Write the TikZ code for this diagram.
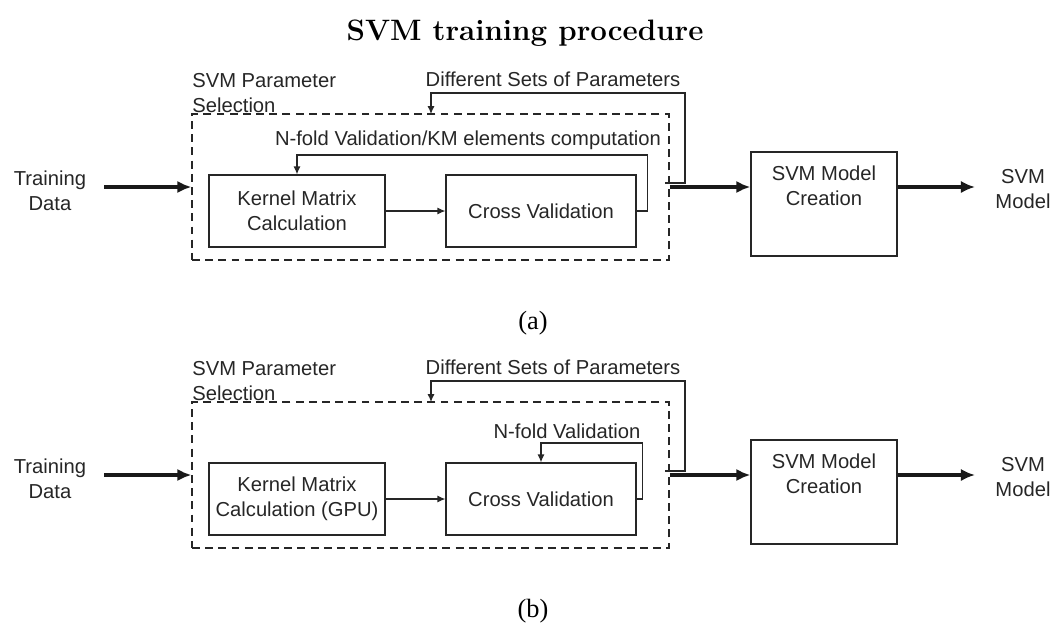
\documentclass[tikz,border=0pt]{standalone}
\usepackage{fontspec}
\usepackage{tikz}
\usetikzlibrary{arrows.meta}
\newfontfamily\arialfont{Liberation Sans}
\newfontfamily\serfont{Liberation Serif}

\begin{document}
\begin{tikzpicture}[x=0.02cm,y=-0.02cm,
		every node/.style={font=\arialfont\fontsize{11.5}{14}\selectfont,text=black!85,align=center},
		block/.style={draw=black!85,line width=0.75pt,inner sep=0pt},
		selbox/.style={draw=black!85,line width=0.75pt,dash pattern=on 4.5pt off 3pt,inner sep=0pt},
		flow/.style={draw=black!90,line width=1.8pt,-{Latex[length=8pt,width=7pt]}},
		loop/.style={draw=black!85,line width=0.65pt,-{Latex[length=4.5pt,width=4pt]}}]
		\useasboundingbox (0,0) rectangle (1055,626);
		\node[font=\fontsize{16.8}{20}\selectfont\bfseries,text=black] (title) at (525,33) {SVM training procedure};

		% (a)
		\node[inner xsep=10pt] (tda) at (50,191) {Training\\Data};
		\node[selbox,minimum width=9.54cm,minimum height=2.92cm] (sela) at (430.5,187) {};
		\node[anchor=west,align=left,inner sep=0pt] (sellaba) at (192,93) {SVM Parameter\\Selection};
		\node[block,minimum width=3.52cm,minimum height=1.44cm] (kma) at (297,211) {Kernel Matrix\\Calculation};
		\node[block,minimum width=3.8cm,minimum height=1.44cm] (cva) at (541,211) {Cross Validation};
		\node[block,minimum width=2.92cm,minimum height=2.08cm] (mca) at (824,204) {};
		\node (mctxta) at (824,186) {SVM Model\\Creation};
		\node (outa) at (1023,189) {SVM\\Model};
		\coordinate (fba) at (665,183);
		\coordinate (psa) at (431,114);
		\coordinate (enda) at (975,187);
		\draw[flow] (tda.east |- sela.west) -- (sela.west);
		\draw[loop] (kma) -- (cva);
		\draw[loop] (cva.east) -- ++(11,0) -- ++(0,-56) -| (kma.north);
		\node (nfa) at (468,140) {N-fold Validation/KM elements computation};
		\draw[loop] (fba) -- ++(20,0) -- ++(0,-90) -| (psa);
		\node (dsa) at (553,79) {Different Sets of Parameters};
		\draw[flow] (sela.east) -- (sela.east -| mca.west);
		\draw[flow] (mca.east |- sela.east) -- (enda);
		\node[font=\serfont\fontsize{15}{18}\selectfont,text=black] (capa) at (533,323) {(a)};

		% (b)
		\node[inner xsep=10pt] (tdb) at (50,479) {Training\\Data};
		\node[selbox,minimum width=9.54cm,minimum height=2.92cm] (selb) at (430.5,475) {};
		\node[anchor=west,align=left,inner sep=0pt] (sellabb) at (192,381) {SVM Parameter\\Selection};
		\node[block,minimum width=3.52cm,minimum height=1.44cm] (kmb) at (297,499) {Kernel Matrix\\Calculation (GPU)};
		\node[block,minimum width=3.8cm,minimum height=1.44cm] (cvb) at (541,499) {Cross Validation};
		\node[block,minimum width=2.92cm,minimum height=2.08cm] (mcb) at (824,492) {};
		\node (mctxtb) at (824,474) {SVM Model\\Creation};
		\node (outb) at (1023,477) {SVM\\Model};
		\coordinate (fbb) at (665,471);
		\coordinate (psb) at (431,402);
		\coordinate (endb) at (975,475);
		\draw[flow] (tdb.east |- selb.west) -- (selb.west);
		\draw[loop] (kmb) -- (cvb);
		\draw[loop] (cvb.east) -- ++(6,0) -- ++(0,-56) -| (cvb.north);
		\node (nfb) at (567,431) {N-fold Validation};
		\draw[loop] (fbb) -- ++(20,0) -- ++(0,-90) -| (psb);
		\node (dsb) at (553,367) {Different Sets of Parameters};
		\draw[flow] (selb.east) -- (selb.east -| mcb.west);
		\draw[flow] (mcb.east |- selb.east) -- (endb);
		\node[font=\serfont\fontsize{15}{18}\selectfont,text=black] (capb) at (533,611) {(b)};
	\end{tikzpicture}
\end{document}
